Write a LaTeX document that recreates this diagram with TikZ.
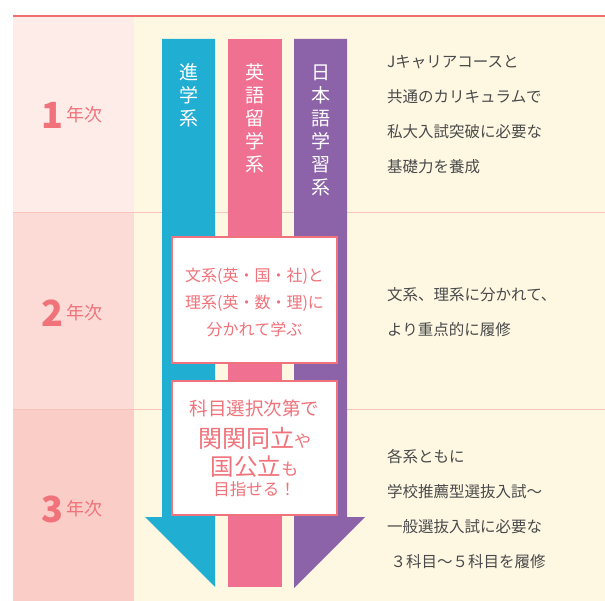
\documentclass[tikz,border=0pt]{standalone}
\usepackage{fontspec}
\setmainfont{Noto Sans CJK JP}
\usetikzlibrary{positioning}

\definecolor{rowa}{HTML}{FDECE8}
\definecolor{rowb}{HTML}{FCDBD6}
\definecolor{rowc}{HTML}{FBCDC7}
\definecolor{cream}{HTML}{FEF8E3}
\definecolor{sepline}{HTML}{F7C3BB}
\definecolor{topline}{HTML}{F07070}
\definecolor{barcyan}{HTML}{21AED3}
\definecolor{barpink}{HTML}{F07092}
\definecolor{barpurple}{HTML}{8C62A8}
\definecolor{coral}{HTML}{F0727A}
\definecolor{textgray}{HTML}{4A4A4A}

\tikzset{
  yearnum/.style={text=coral, font=\fontsize{36}{36}\selectfont\bfseries, inner sep=0pt},
  yearunit/.style={text=coral, font=\fontsize{18}{18}\selectfont, inner sep=0pt},
  barlabel/.style={text=white, font=\fontsize{19}{23}\selectfont, align=center, inner sep=0pt},
  note/.style={text=textgray, font=\fontsize{15.5}{35}\selectfont, align=left, anchor=west, inner sep=0pt},
  infobox/.style={draw=coral, line width=1.5pt, fill=white, minimum width=165pt, inner sep=0pt},
  boxtext/.style={text=coral, align=center, inner sep=0pt},
}

\begin{document}
\begin{tikzpicture}[x=1pt,y=-1pt]
    \useasboundingbox (0,0) rectangle (605,601);
    \fill[white] (0,0) rectangle (605,601);

    % 背景
    \fill[rowa] (13,16) rectangle (134,213);
    \fill[rowb] (13,213) rectangle (134,409);
    \fill[rowc] (13,409) rectangle (134,601);
    \fill[cream] (134,16) rectangle (605,601);

    % 区切り線
    \draw[sepline, line width=1pt] (13,213) -- (605,213);
    \draw[sepline, line width=1pt] (13,409) -- (605,409);
    \draw[topline, line width=1.5pt] (13,16) -- (605,16);

    % 学年
    \node[yearnum] (n1) at (52,115) {1};
    \node[yearunit, right=3pt of n1] (u1) {年次};
    \node[yearnum] (n2) at (52,313) {2};
    \node[yearunit, right=3pt of n2] (u2) {年次};
    \node[yearnum] (n3) at (52,509) {3};
    \node[yearunit, right=3pt of n3] (u3) {年次};

    % 矢印 (3本)
    \fill[barcyan] (162,39) -- (215,39) -- (215,587) -- (145,517) -- (162,517) -- cycle;
    \fill[barpink] (228,39) rectangle (282,587);
    \fill[barpurple] (294,39) -- (347,39) -- (347,517) -- (365,517) -- (294,588) -- cycle;

    \node[barlabel] (shingaku) at (188.5,95) {進\\学\\系};
    \node[barlabel] (eigo) at (255,118.5) {英\\語\\留\\学\\系};
    \node[barlabel] (nihongo) at (320.5,130) {日\\本\\語\\学\\習\\系};

    % 2年次の枠
    \node[infobox, minimum height=126pt] (box2) at (254.5,300) {};
    \node[boxtext, font=\fontsize{16}{27}\selectfont] (box2txt) at (254.5,302)
        {文系(英・国・社)と\\理系(英・数・理)に\\分かれて学ぶ};

    % 3年次の枠
    \node[infobox, minimum height=134pt] (box3) at (254.5,448) {};
    \node[boxtext, font=\fontsize{18.5}{18.5}\selectfont] (goal1) at (254.5,408) {科目選択次第で};
    \node[boxtext] (goal2) at (254.5,438)
        {{\fontsize{24}{24}\selectfont 関関同立}{\fontsize{17}{17}\selectfont や}};
    \node[boxtext] (goal3) at (254.5,467)
        {{\fontsize{23.5}{23.5}\selectfont 国公立}{\fontsize{17}{17}\selectfont も}};
    \node[boxtext, font=\fontsize{16.5}{16.5}\selectfont] (goal4) at (254.5,489) {目指せる！};

    % 説明文
    \node[note] (note1) at (387,115)
        {Jキャリアコースと\\共通のカリキュラムで\\私大入試突破に必要な\\基礎力を養成};
    \node[note] (note2) at (387,312.5)
        {文系、理系に分かれて、\\より重点的に履修};
    \node[note] (note3) at (387,509.5)
        {各系ともに\\学校推薦型選抜入試～\\一般選抜入試に必要な\\\ ３科目～５科目を履修};
\end{tikzpicture}
\end{document}
